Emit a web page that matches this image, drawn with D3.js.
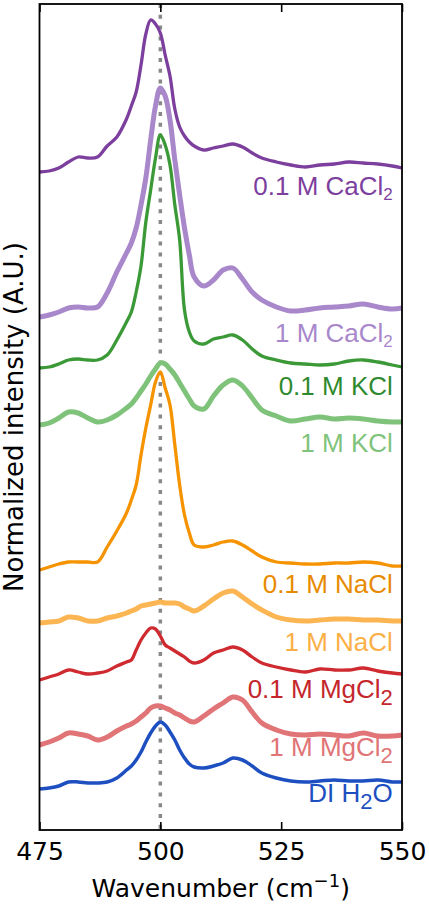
<!DOCTYPE html>
<html>
<head>
<meta charset="utf-8">
<script src="https://cdn.jsdelivr.net/npm/d3@7"></script>
<style>
  body { margin: 0; background: #fff; }
  text { font-family: "DejaVu Sans", sans-serif; }
  .lbl { font-family: "Liberation Sans", Arial, sans-serif; }
</style>
</head>
<body>
<svg id="chart" width="429" height="905"></svg>
<script>
// wavenumber grid (cm^-1)
const wavenumbers = [475, 477, 479, 481, 483, 485, 487, 489, 491, 493, 494, 495, 496, 497, 498, 499, 500,
  501, 502, 503, 504, 505, 506, 507, 509, 511, 513, 515, 517, 519, 521, 524, 527, 530, 533, 536, 539, 542, 545, 548, 550]

// offset, normalized spectra (A.U.)
const caCl2_01 = [6.58, 6.59, 6.62, 6.68, 6.73, 6.72, 6.73, 6.84, 6.93, 7.11, 7.24, 7.38, 7.65, 7.96, 8.10, 8.06, 7.97,
  7.75, 7.54, 7.21, 7.03, 6.94, 6.88, 6.84, 6.80, 6.82, 6.84, 6.86, 6.83, 6.77, 6.72, 6.68, 6.65, 6.63, 6.65, 6.66, 6.68, 6.67, 6.66, 6.64, 6.62]
const caCl2_1 = [5.13, 5.15, 5.18, 5.22, 5.23, 5.22, 5.23, 5.37, 5.58, 5.77, 5.87, 6.02, 6.25, 6.52, 6.90, 7.24, 7.42,
  7.34, 7.10, 6.70, 6.35, 6.02, 5.75, 5.53, 5.44, 5.50, 5.60, 5.62, 5.51, 5.38, 5.30, 5.23, 5.19, 5.20, 5.22, 5.23, 5.24, 5.26, 5.23, 5.21, 5.22]
const kCl_01 = [4.62, 4.63, 4.66, 4.70, 4.71, 4.70, 4.70, 4.75, 4.90, 5.08, 5.18, 5.38, 5.64, 6.08, 6.40, 6.72, 6.95,
  6.85, 6.65, 6.25, 5.90, 5.20, 4.98, 4.89, 4.86, 4.91, 4.93, 4.95, 4.90, 4.81, 4.74, 4.70, 4.67, 4.66, 4.65, 4.66, 4.69, 4.70, 4.68, 4.65, 4.63]
const kCl_1 = [4.05, 4.07, 4.12, 4.18, 4.17, 4.12, 4.08, 4.10, 4.15, 4.22, 4.26, 4.32, 4.39, 4.46, 4.54, 4.61, 4.67,
  4.66, 4.61, 4.55, 4.47, 4.39, 4.31, 4.24, 4.21, 4.34, 4.45, 4.50, 4.44, 4.32, 4.20, 4.14, 4.09, 4.11, 4.13, 4.11, 4.12, 4.11, 4.09, 4.08, 4.08]
const naCl_01 = [2.60, 2.63, 2.66, 2.68, 2.68, 2.68, 2.68, 2.83, 2.99, 3.17, 3.30, 3.45, 3.75, 4.02, 4.25, 4.48, 4.58,
  4.42, 4.25, 3.85, 3.45, 3.15, 2.97, 2.85, 2.83, 2.85, 2.88, 2.89, 2.85, 2.79, 2.73, 2.68, 2.67, 2.66, 2.66, 2.67, 2.67, 2.68, 2.67, 2.64, 2.64]
const naCl_1 = [2.07, 2.08, 2.09, 2.13, 2.12, 2.09, 2.09, 2.12, 2.14, 2.17, 2.19, 2.21, 2.24, 2.25, 2.26, 2.27, 2.28,
  2.27, 2.27, 2.27, 2.26, 2.23, 2.21, 2.19, 2.24, 2.31, 2.37, 2.39, 2.33, 2.26, 2.20, 2.13, 2.10, 2.09, 2.10, 2.11, 2.11, 2.10, 2.10, 2.09, 2.09]
const mgCl2_01 = [1.50, 1.53, 1.56, 1.60, 1.58, 1.56, 1.57, 1.59, 1.64, 1.68, 1.70, 1.80, 1.90, 1.97, 2.02, 2.01, 1.94,
  1.85, 1.82, 1.79, 1.76, 1.73, 1.69, 1.67, 1.70, 1.77, 1.80, 1.83, 1.80, 1.73, 1.67, 1.63, 1.60, 1.58, 1.61, 1.60, 1.60, 1.62, 1.59, 1.57, 1.56]
const mgCl2_1 = [0.85, 0.88, 0.92, 0.97, 0.96, 0.94, 0.90, 0.93, 0.99, 1.04, 1.06, 1.09, 1.13, 1.17, 1.22, 1.24, 1.24,
  1.22, 1.20, 1.17, 1.15, 1.12, 1.09, 1.08, 1.14, 1.21, 1.27, 1.33, 1.30, 1.18, 1.07, 1.00, 0.96, 0.95, 0.96, 0.95, 0.94, 0.97, 0.94, 0.94, 0.95]
const diH2O = [0.41, 0.42, 0.44, 0.48, 0.48, 0.47, 0.47, 0.48, 0.52, 0.60, 0.64, 0.70, 0.78, 0.88, 0.97, 1.04, 1.08,
  1.05, 0.98, 0.90, 0.80, 0.72, 0.66, 0.63, 0.62, 0.64, 0.67, 0.72, 0.70, 0.64, 0.57, 0.52, 0.49, 0.48, 0.49, 0.50, 0.49, 0.49, 0.50, 0.48, 0.48]

// labels: [text, subscript, rest]
const labels = [
  ['0.1 M CaCl', '2', ''], ['1 M CaCl', '2', ''], ['0.1 M KCl', '', ''], ['1 M KCl', '', ''],
  ['0.1 M NaCl', '', ''], ['1 M NaCl', '', ''], ['0.1 M MgCl', '2', ''], ['1 M MgCl', '2', ''], ['DI H', '2', 'O']
]
const labelY = [6.35, 4.88, 4.35, 3.78, 2.37, 1.79, 1.32, 0.74, 0.28]
const xTicks = [475, 500, 525, 550]

const series = [caCl2_01, caCl2_1, kCl_01, kCl_1, naCl_01, naCl_1, mgCl2_01, mgCl2_1, diH2O]
const colors = ['#7d3f9e', '#a987cb', '#3b9a37', '#7fc37b', '#f59300', '#fbb653', '#cf2a2f', '#e07476', '#1d4fc1']
const labelColors = ['#7d3f9e', '#a987cb', '#2f8a2f', '#7fc37b', '#e88a00', '#fbb047', '#c4262b', '#e07476', '#1d4fc1']
const widths = [3.3, 5, 3.3, 5, 3.3, 5, 3.3, 5, 3.5]

let svg = d3.select('#chart')
let plotLeft = 39.5, plotRight = 402, plotTop = 4, plotBottom = 830

let x = d3.scaleLinear().domain([475, 550]).range([plotLeft, plotRight])
let y = d3.scaleLinear().domain([0, 8.26]).range([plotBottom, plotTop])

// dotted reference line at 500
svg.append('line')
    .attr('x1', x(500)).attr('x2', x(500))
    .attr('y1', plotTop).attr('y2', plotBottom)
    .attr('stroke', '#888')
    .attr('stroke-width', 3.5)
    .attr('stroke-dasharray', '4 6.8')

let line = d3.line()
    .x((d, i) => x(wavenumbers[i]))
    .y(d => y(d))
    .curve(d3.curveCatmullRom.alpha(0.5))

svg.append('g')
    .selectAll('path')
    .data(series)
    .enter()
    .append('path')
    .attr('d', line)
    .attr('fill', 'none')
    .attr('stroke', (d, i) => colors[i])
    .attr('stroke-width', (d, i) => widths[i])
    .attr('stroke-linejoin', 'round')

// labels on the right
let lbl = svg.append('g')
    .selectAll('text')
    .data(labels)
    .enter()
    .append('text')
    .attr('class', 'lbl')
    .attr('x', x(548.1))
    .attr('y', (d, i) => y(labelY[i]))
    .attr('text-anchor', 'end')
    .attr('font-size', 26)
    .attr('fill', (d, i) => labelColors[i])

lbl.append('tspan').text(d => d[0])
lbl.filter(d => d[1] !== '')
    .append('tspan')
    .attr('font-size', d => d[0].indexOf('CaCl') >= 0 ? 17 : 22)
    .attr('dy', d => d[0].indexOf('CaCl') >= 0 ? 5 : 7)
    .text(d => d[1])
lbl.filter(d => d[2] !== '')
    .append('tspan')
    .attr('dy', -7)
    .text(d => d[2])

// axes
let xAxis = d3.axisBottom(x).tickValues(xTicks).tickSize(-8).tickPadding(12).tickFormat(d3.format('d'))
let xAxisTop = d3.axisTop(x).tickValues(xTicks).tickSize(-8).tickFormat('')

let gb = svg.append('g').attr('transform', `translate(0,${plotBottom})`).call(xAxis)
let gt = svg.append('g').attr('transform', `translate(0,${plotTop})`).call(xAxisTop)
;[gb, gt].forEach(g => {
    g.select('.domain').remove()
    g.selectAll('line').attr('stroke', '#000').attr('stroke-width', 1.6)
})
gb.selectAll('text')
    .attr('font-size', 25)
    .attr('font-family', 'DejaVu Sans')
    .attr('fill', '#000')

svg.append('rect')
    .attr('x', plotLeft).attr('y', plotTop)
    .attr('width', plotRight - plotLeft).attr('height', plotBottom - plotTop)
    .attr('fill', 'none')
    .attr('stroke', '#000')
    .attr('stroke-width', 1.8)

// axis titles
let xt = svg.append('text')
    .attr('x', (plotLeft + plotRight) / 2)
    .attr('y', 897)
    .attr('text-anchor', 'middle')
    .attr('font-size', 25)
xt.append('tspan').text('Wavenumber (cm')
xt.append('tspan').attr('font-size', 18).attr('dy', -10).text('−1')
xt.append('tspan').attr('dy', 10).text(')')

svg.append('text')
    .attr('transform', `translate(23,${(plotTop + plotBottom) / 2}) rotate(-90)`)
    .attr('text-anchor', 'middle')
    .attr('font-size', 26)
    .text('Normalized intensity (A.U.)')
</script>
</body>
</html>
